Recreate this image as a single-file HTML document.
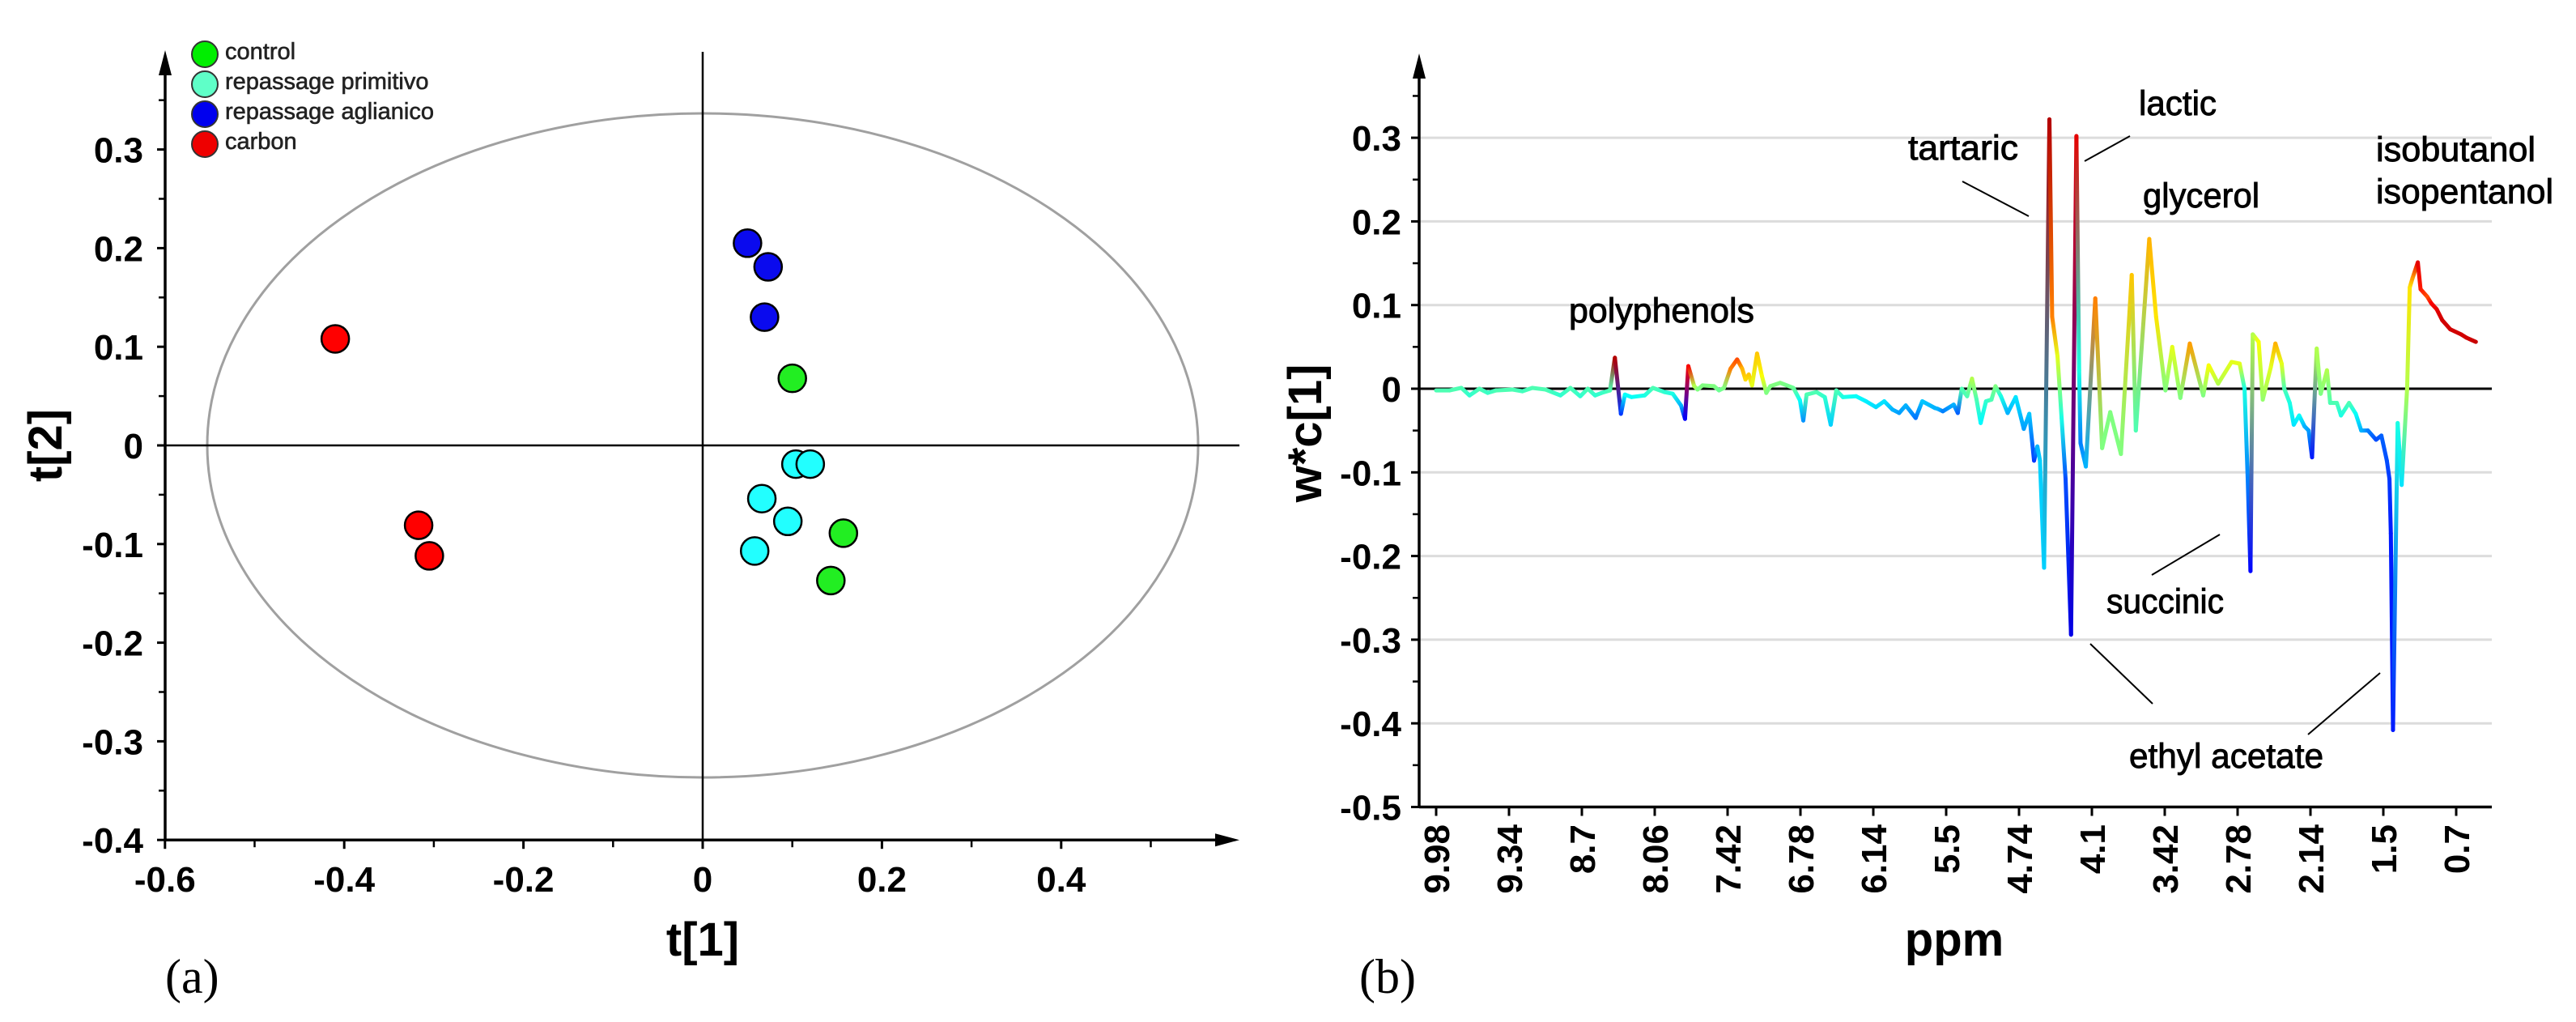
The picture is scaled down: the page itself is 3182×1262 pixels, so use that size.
<!DOCTYPE html>
<html><head><meta charset="utf-8"><style>
html,body{margin:0;padding:0;background:#fff;}
svg{display:block;font-family:"Liberation Sans",sans-serif;}
</style></head><body>
<svg id="fig" width="3182" height="1262" viewBox="0 0 3182 1262" xmlns="http://www.w3.org/2000/svg">
<g id="pa"></g>
<g id="pb"></g>
</svg>
<script>
// ---- Panel (a) data ----
const groupNames = ["control","repassage primitivo","repassage aglianico","carbon"];
const groupColors = ["#22ee22","#22ffff","#0a0aee","#ff0000"];
const legendColors = ["#00ee00","#5fffc8","#0000ee","#ee0000"];
const controlT1 = [0.100,0.157,0.143];
const controlT2 = [0.068,-0.089,-0.137];
const primitivoT1 = [0.104,0.120,0.066,0.095,0.058];
const primitivoT2 = [-0.019,-0.019,-0.054,-0.077,-0.107];
const aglianicoT1 = [0.050,0.073,0.069];
const aglianicoT2 = [0.205,0.181,0.130];
const carbonT1 = [-0.410,-0.317,-0.305];
const carbonT2 = [0.108,-0.081,-0.112];
const aXTicks = [-0.6,-0.4,-0.2,0,0.2,0.4];
const aXTickLabels = ["-0.6","-0.4","-0.2","0","0.2","0.4"];
const aYTicks = [-0.4,-0.3,-0.2,-0.1,0,0.1,0.2,0.3];
const aYTickLabels = ["-0.4","-0.3","-0.2","-0.1","0","0.1","0.2","0.3"];

// ---- Panel (b) data ----
const ppm = [9.98,9.861,9.759,9.687,9.600,9.527,9.454,9.309,9.222,9.135,9.019,8.888,8.801,8.714,8.648,8.584,8.526,8.453,8.410,8.357,8.322,8.264,8.148,8.076,7.974,7.902,7.829,7.794,7.765,7.713,7.684,7.640,7.539,7.495,7.452,7.394,7.336,7.292,7.263,7.234,7.205,7.161,7.118,7.080,7.045,6.958,6.842,6.784,6.755,6.726,6.639,6.566,6.514,6.465,6.407,6.291,6.204,6.117,6.044,5.971,5.913,5.855,5.768,5.710,5.600,5.576,5.529,5.434,5.398,5.363,5.316,5.273,5.233,5.197,5.150,5.102,5.067,5.019,4.960,4.889,4.818,4.770,4.728,4.699,4.676,4.640,4.593,4.569,4.522,4.486,4.451,4.403,4.356,4.332,4.320,4.273,4.190,4.130,4.059,3.965,3.870,3.834,3.716,3.656,3.574,3.514,3.443,3.360,3.242,3.194,3.111,2.993,2.922,2.879,2.851,2.827,2.807,2.755,2.719,2.648,2.608,2.553,2.530,2.482,2.447,2.399,2.352,2.316,2.286,2.245,2.210,2.155,2.127,2.068,2.032,1.961,1.902,1.854,1.795,1.724,1.677,1.629,1.606,1.594,1.575,1.534,1.499,1.451,1.428,1.404,1.357,1.333,1.274,1.238,1.191,1.143,1.072,0.977,0.930,0.847];
const wc1 = [-0.002,-0.002,0.001,-0.008,0.000,-0.005,-0.002,-0.001,-0.003,0.001,-0.001,-0.008,0.001,-0.009,0.000,-0.008,-0.005,-0.002,0.037,-0.030,-0.007,-0.010,-0.008,0.001,-0.004,-0.006,-0.020,-0.036,0.027,0.003,-0.001,0.004,0.003,-0.002,0.001,0.024,0.035,0.024,0.011,0.017,0.004,0.042,0.015,-0.005,0.003,0.007,0.001,-0.014,-0.038,-0.007,-0.004,-0.010,-0.043,-0.002,-0.010,-0.009,-0.015,-0.022,-0.015,-0.025,-0.029,-0.020,-0.035,-0.015,-0.023,-0.024,-0.027,-0.019,-0.029,0.000,-0.009,0.012,-0.013,-0.041,-0.015,-0.013,0.003,-0.009,-0.029,-0.010,-0.048,-0.030,-0.086,-0.069,-0.086,-0.214,0.322,0.086,0.039,-0.035,-0.108,-0.294,0.302,0.022,-0.065,-0.093,0.108,-0.071,-0.028,-0.078,0.136,-0.050,0.179,0.086,-0.002,0.050,-0.011,0.054,-0.008,0.028,0.006,0.032,0.030,0.000,-0.108,-0.218,0.065,0.056,-0.013,0.026,0.054,0.030,0.000,-0.017,-0.043,-0.032,-0.045,-0.050,-0.082,0.048,-0.006,0.022,-0.017,-0.017,-0.032,-0.017,-0.030,-0.050,-0.050,-0.061,-0.056,-0.086,-0.108,-0.173,-0.408,-0.041,-0.115,0.000,0.121,0.132,0.151,0.119,0.110,0.102,0.095,0.082,0.071,0.065,0.061,0.056];
const corr = [0.45,0.45,0.45,0.42,0.45,0.43,0.45,0.45,0.44,0.45,0.45,0.42,0.45,0.42,0.45,0.42,0.43,0.45,0.95,0.18,0.38,0.38,0.40,0.45,0.42,0.40,0.30,0.12,0.88,0.55,0.50,0.50,0.50,0.48,0.50,0.75,0.80,0.70,0.66,0.68,0.60,0.68,0.62,0.50,0.50,0.50,0.48,0.38,0.27,0.45,0.45,0.42,0.33,0.45,0.40,0.38,0.36,0.34,0.35,0.30,0.28,0.30,0.24,0.32,0.30,0.30,0.25,0.30,0.22,0.45,0.45,0.55,0.45,0.37,0.42,0.45,0.50,0.40,0.30,0.35,0.28,0.32,0.18,0.30,0.33,0.33,0.95,0.75,0.60,0.40,0.20,0.10,0.90,0.40,0.25,0.30,0.75,0.50,0.50,0.50,0.68,0.45,0.70,0.65,0.50,0.60,0.50,0.72,0.50,0.62,0.55,0.60,0.60,0.40,0.25,0.13,0.55,0.62,0.52,0.60,0.70,0.60,0.45,0.40,0.35,0.38,0.30,0.28,0.15,0.55,0.50,0.55,0.45,0.45,0.40,0.45,0.38,0.30,0.25,0.20,0.22,0.20,0.18,0.15,0.15,0.40,0.35,0.55,0.65,0.72,0.90,0.85,0.80,0.88,0.90,0.92,0.92,0.92,0.92,0.93];
const bXTickLabels = ["9.98","9.34","8.7","8.06","7.42","6.78","6.14","5.5","4.74","4.1","3.42","2.78","2.14","1.5","0.7"];
const bYTicks = [-0.5,-0.4,-0.3,-0.2,-0.1,0,0.1,0.2,0.3];
const bYTickLabels = ["-0.5","-0.4","-0.3","-0.2","-0.1","0","0.1","0.2","0.3"];

const NS="http://www.w3.org/2000/svg";
function mk(parent,tag,attrs,text){const e=document.createElementNS(NS,tag);for(const k in attrs)e.setAttribute(k,attrs[k]);if(text!==undefined)e.textContent=text;parent.appendChild(e);return e;}

// ---------- Panel A ----------
const pa=document.getElementById('pa');
const ax=v=>868+v*1107; const ay=v=>550-v*1218;
const aLeft=204, aBottom=ay(-0.4), aRight=1531, aTop=62;
let e;
e=mk(pa,'ellipse',{cx:ax(0),cy:ay(0),rx:612,ry:410,fill:'none',stroke:'#a0a0a0','stroke-width':3});


e=mk(pa,'line',{x1:aLeft,y1:ay(0),x2:aRight,y2:ay(0),stroke:'#000','stroke-width':2.5});


e=mk(pa,'line',{x1:ax(0),y1:aTop+2,x2:ax(0),y2:aBottom,stroke:'#000','stroke-width':2.5});


e=mk(pa,'line',{x1:aLeft,y1:aBottom,x2:aRight-20,y2:aBottom,stroke:'#000','stroke-width':3.5});


e=mk(pa,'polygon',{points:`${aRight},${aBottom} ${aRight-30},${aBottom-8} ${aRight-30},${aBottom+8}`,fill:'#000'});


e=mk(pa,'line',{x1:aLeft,y1:aBottom,x2:aLeft,y2:aTop+20,stroke:'#000','stroke-width':3.5});


e=mk(pa,'polygon',{points:`${aLeft},${aTop} ${aLeft-8},${aTop+31} ${aLeft+8},${aTop+31}`,fill:'#000'});


for(let i=0;i<aXTicks.length;i++){
  const x=ax(aXTicks[i]);
  e=mk(pa,'line',{x1:x,y1:aBottom,x2:x,y2:aBottom+11,stroke:'#000','stroke-width':3});
  
  
  e=mk(pa,'line',{x1:ax(aXTicks[i]+0.1),y1:aBottom,x2:ax(aXTicks[i]+0.1),y2:aBottom+9,stroke:'#000','stroke-width':2.5});
  
  
  e=mk(pa,'text',{x:x,y:1101,'text-anchor':'middle','font-size':44,'font-weight':'bold'},aXTickLabels[i]);
  
  
}
for(let i=0;i<aYTicks.length;i++){
  const y=ay(aYTicks[i]);
  e=mk(pa,'line',{x1:aLeft-10,y1:y,x2:aLeft,y2:y,stroke:'#000','stroke-width':3});
  
  
  e=mk(pa,'line',{x1:aLeft-8,y1:ay(aYTicks[i]+0.05),x2:aLeft,y2:ay(aYTicks[i]+0.05),stroke:'#000','stroke-width':2.5});
  
  
  e=mk(pa,'text',{x:177,y:y+16,'text-anchor':'end','font-size':44,'font-weight':'bold'},aYTickLabels[i]);
  
  
}
e=mk(pa,'text',{x:ax(0),y:1180,'text-anchor':'middle','font-size':58,'font-weight':'bold'},'t[1]');


e=mk(pa,'text',{x:0,y:0,'text-anchor':'middle','font-size':58,'font-weight':'bold',transform:`translate(76,${ay(0)}) rotate(-90)`},'t[2]');


e=mk(pa,'text',{x:204,y:1226,'font-size':60,'font-family':'Liberation Serif, serif'},'(a)');


const groupsT1=[controlT1,primitivoT1,aglianicoT1,carbonT1];
const groupsT2=[controlT2,primitivoT2,aglianicoT2,carbonT2];
for(let g=0;g<4;g++){
  for(let i=0;i<groupsT1[g].length;i++){
    e=mk(pa,'circle',{cx:ax(groupsT1[g][i]),cy:ay(groupsT2[g][i]),r:17,fill:groupColors[g],stroke:'#000','stroke-width':2.5});
    
    
  }
}
for(let g=0;g<4;g++){
  const y=67+g*37;
  e=mk(pa,'circle',{cx:253,cy:y,r:16,fill:legendColors[g],stroke:'#333','stroke-width':2});
  
  
  e=mk(pa,'text',{x:278,y:y+6,'font-size':29,fill:'#222',stroke:'#222','stroke-width':0.6},groupNames[g]);
  
  
}

// ---------- Panel B ----------
const pb=document.getElementById('pb');
const bx=p=>1774+(9.98-p)/0.64*90; const by=v=>480-v*1033;
const bLeft=1753, bRight=3078, bBottom=by(-0.5), bTop=66;
const defs=mk(pb,'defs',{});
for(let i=0;i<bYTicks.length;i++){
  if(bYTicks[i]===0||bYTicks[i]===-0.5)continue;
  e=mk(pb,'line',{x1:bLeft,y1:by(bYTicks[i]),x2:bRight,y2:by(bYTicks[i]),stroke:'#dcdcdc','stroke-width':3});
  
  
}
e=mk(pb,'line',{x1:bLeft,y1:by(0),x2:bRight,y2:by(0),stroke:'#000','stroke-width':3});


function jet(t){t=Math.max(0,Math.min(1,t));const c=v=>Math.round(255*Math.max(0,Math.min(1,v)));return `rgb(${c(1.5-Math.abs(4*t-3))},${c(1.5-Math.abs(4*t-2))},${c(1.5-Math.abs(4*t-1))})`;}
const lineG=mk(pb,'g',{});


for(let i=0;i<ppm.length-1;i++){
  const x1=bx(ppm[i]),y1=by(wc1[i]),x2=bx(ppm[i+1]),y2=by(wc1[i+1]);
  const gid='g'+i;
  const gr=mk(defs,'linearGradient',{id:gid,gradientUnits:'userSpaceOnUse',x1:x1,y1:y1,x2:x2+0.01,y2:y2});
  mk(gr,'stop',{offset:0,'stop-color':jet(corr[i])});
  mk(gr,'stop',{offset:1,'stop-color':jet(corr[i+1])});
  e=mk(lineG,'line',{x1:x1,y1:y1,x2:x2,y2:y2,stroke:`url(#${gid})`,'stroke-width':5,'stroke-linecap':'round'});
  
  
}
e=mk(pb,'line',{x1:bLeft,y1:bBottom,x2:bRight,y2:bBottom,stroke:'#000','stroke-width':3.5});


e=mk(pb,'line',{x1:bLeft,y1:bBottom,x2:bLeft,y2:bTop+20,stroke:'#000','stroke-width':3.5});


e=mk(pb,'polygon',{points:`${bLeft},${bTop} ${bLeft-8},${bTop+31} ${bLeft+8},${bTop+31}`,fill:'#000'});


for(let i=0;i<bYTicks.length;i++){
  const y=by(bYTicks[i]);
  e=mk(pb,'line',{x1:bLeft-10,y1:y,x2:bLeft,y2:y,stroke:'#000','stroke-width':3});
  
  
  if(bYTicks[i]<0.3){
    e=mk(pb,'line',{x1:bLeft-8,y1:by(bYTicks[i]+0.05),x2:bLeft,y2:by(bYTicks[i]+0.05),stroke:'#000','stroke-width':2.5});
    
    
  }
  e=mk(pb,'text',{x:1731,y:y+16,'text-anchor':'end','font-size':44,'font-weight':'bold'},bYTickLabels[i]);
  
  
}
e=mk(pb,'line',{x1:bLeft-8,y1:by(0.35),x2:bLeft,y2:by(0.35),stroke:'#000','stroke-width':2.5});


for(let i=0;i<bXTickLabels.length;i++){
  const x=1774+i*90;
  e=mk(pb,'line',{x1:x,y1:bBottom,x2:x,y2:bBottom+11,stroke:'#000','stroke-width':3});
  
  
  e=mk(pb,'text',{x:0,y:0,'text-anchor':'end','font-size':44,'font-weight':'bold',transform:`translate(${x+16},1018) rotate(-90)`},bXTickLabels[i]);
  
  
}
e=mk(pb,'text',{x:2414,y:1180,'text-anchor':'middle','font-size':58,'font-weight':'bold'},'ppm');


e=mk(pb,'text',{x:0,y:0,'text-anchor':'middle','font-size':58,'font-weight':'bold',transform:`translate(1632,535) rotate(-90)`},'w*c[1]');


e=mk(pb,'text',{x:1679,y:1226,'font-size':60,'font-family':'Liberation Serif, serif'},'(b)');


const ann=[["polyphenols",1938,398,229],["tartaric",2357,197,136],["lactic",2642,142,96],["glycerol",2647,256,144],["isobutanol",2935,199,197],["isopentanol",2935,251,219],["succinic",2602,757,145],["ethyl acetate",2630,948,240]];
for(const a of ann){
  e=mk(pb,'text',{x:a[1],y:a[2],'font-size':43,stroke:'#000','stroke-width':0.9,textLength:a[3],lengthAdjust:'spacingAndGlyphs'},a[0]);
  
  
}
const leaders=[[2424,224,2506,267],[2631,168,2575,199],[2742,660,2658,710],[2582,795,2659,869],[2940,831,2851,907]];
for(const l of leaders){
  e=mk(pb,'line',{x1:l[0],y1:l[1],x2:l[2],y2:l[3],stroke:'#000','stroke-width':2});
  
  
}
</script>
</body></html>
